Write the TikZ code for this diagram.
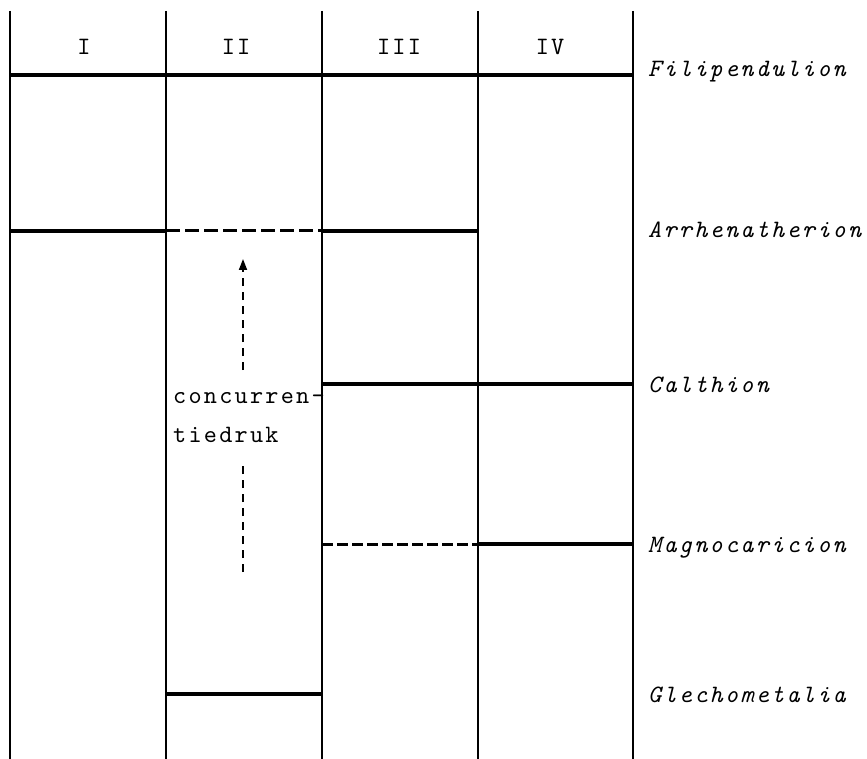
\documentclass[tikz,border=0pt]{standalone}
\usepackage{fontspec}
\newfontfamily\uptype{lmmono10-regular.otf}[LetterSpace=9]
\newfontfamily\ittype{lmmono10-italic.otf}[LetterSpace=9]
\usetikzlibrary{arrows.meta}
\begin{document}
\begin{tikzpicture}[x=1pt,y=-1pt,
  vline/.style={line width=2pt},
  hline/.style={line width=3.2pt},
  dline/.style={line width=3pt,dash pattern=on 14pt off 5pt},
  col/.style={font=\fontsize{25}{30}\selectfont\uptype,inner sep=0pt,anchor=base},
  lab/.style={font=\fontsize{25}{30}\selectfont\ittype,anchor=base west,inner sep=0pt},
  arr/.style={line width=1.8pt,dash pattern=on 8pt off 6pt}]
\useasboundingbox (0,0) rectangle (867,759);
% vertical lines
\foreach \n/\x in {0/10,1/166,2/322,3/478,4/633}{
  \coordinate (t\n) at (\x,11);
  \coordinate (b\n) at (\x,759);
}
\foreach \n in {0,...,4}{\draw[vline] (t\n) -- (b\n);}
% header
\coordinate (h0) at (10,75);
\coordinate (h4) at (633,75);
\draw[hline] (h0) -- (h4);
\node[col] (cI) at (84,55) {I};
\node[col] (cII) at (236,55) {II};
\node[col] (cIII) at (399,55) {III};
\node[col] (cIV) at (550,55) {IV};
% Arrhenatherion level
\coordinate (r0) at (10,231);
\coordinate (r1) at (166,231);
\coordinate (r2) at (322,231);
\coordinate (r3) at (478,231);
\draw[hline] (r0) -- (r1);
\draw[dline] (r1) -- (r2);
\draw[hline] (r2) -- (r3);
% Calthion level
\coordinate (c2) at (322,384);
\coordinate (c4) at (633,384);
\draw[hline] (c2) -- (c4);
% Magnocaricion level
\coordinate (m2) at (322,544);
\coordinate (m3) at (478,544);
\coordinate (m4) at (633,544);
\draw[dline,dash pattern=on 11pt off 4pt] (m2) -- (m3);
\draw[hline] (m3) -- (m4);
% Glechometalia level
\coordinate (g1) at (166,694);
\coordinate (g2) at (322,694);
\draw[hline] (g1) -- (g2);
% labels
\node[lab] (lF) at (648,77) {Filipendulion};
\node[lab] (lA) at (648,238) {Arrhenatherion};
\node[lab] (lC) at (648,392) {Calthion};
\node[lab] (lM) at (648,552) {Magnocaricion};
\node[lab] (lG) at (648,702) {Glechometalia};
% concurrentiedruk
\node[font=\fontsize{25}{39}\selectfont\uptype,align=left,anchor=base west,inner sep=0pt] (txt) at (173,442) {concurren-\\tiedruk};
\coordinate (a0) at (243,572);
\coordinate (a1) at (243,259);
\coordinate (s0) at (243,466);
\coordinate (s1) at (243,370);
\draw[arr] (a0) -- (s0);
\draw[arr,-{Triangle[length=11pt,width=8pt]}] (s1) -- (a1);
\end{tikzpicture}
\end{document}
